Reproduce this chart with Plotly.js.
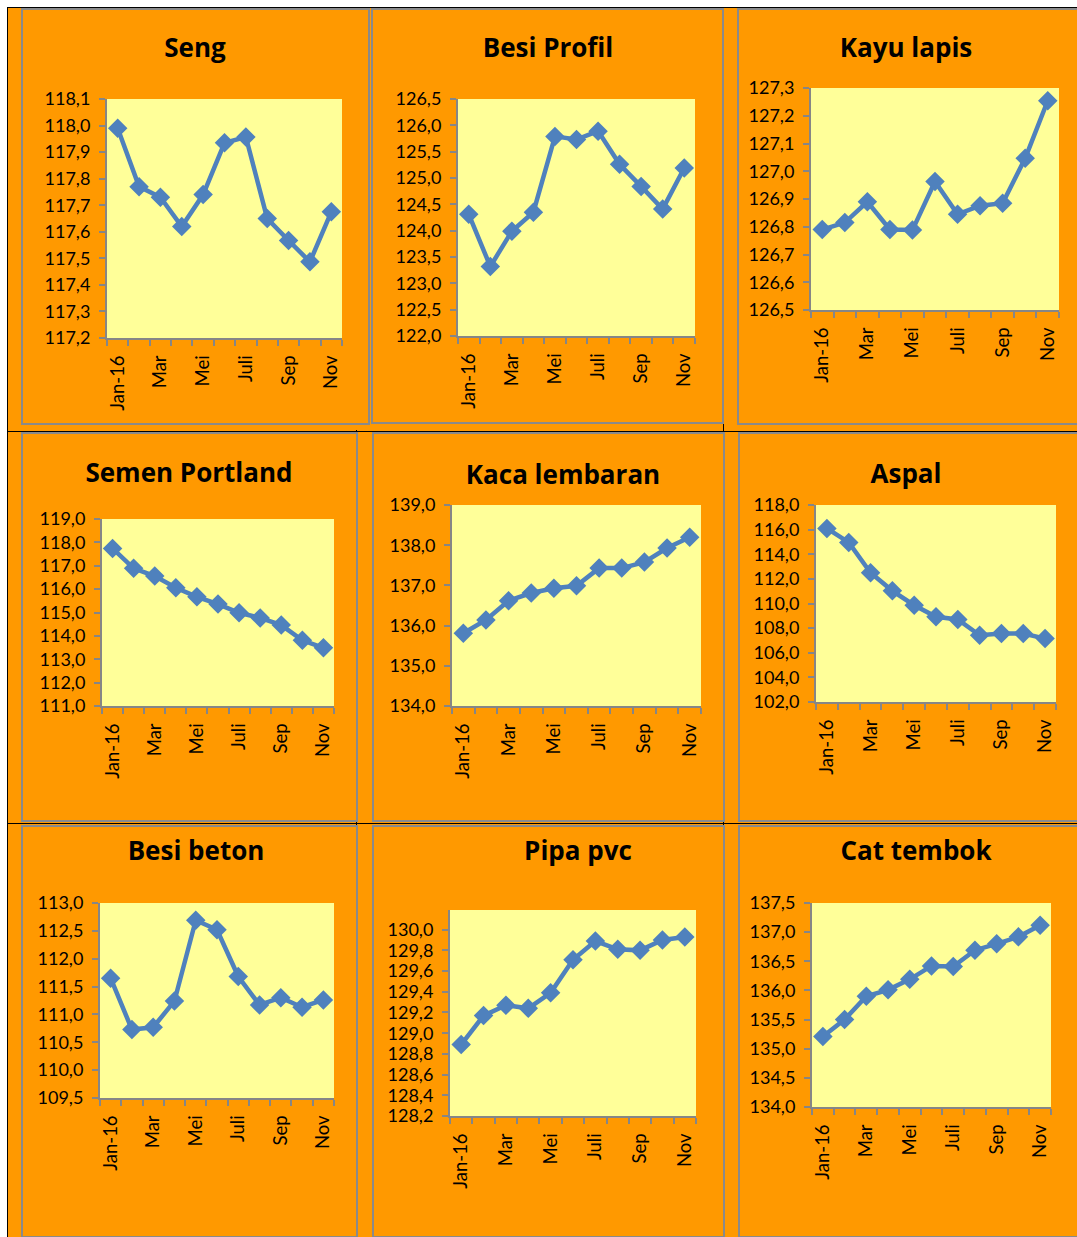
<!DOCTYPE html>
<html>
<head>
<meta charset="utf-8">
<script src="https://cdn.plot.ly/plotly-3.0.1.min.js"></script>
<style>
  html, body { margin: 0; padding: 0; width: 1077px; height: 1237px; overflow: hidden; background: #ffffff; }
  #sheet { position: absolute; left: 7px; top: 7px; width: 1075px; height: 1235px; background: #FF9900;
           border-top: 1px solid #000; border-left: 1px solid #000; box-sizing: border-box; }
  .hline { position: absolute; height: 1px; background: #000; }
  .vline { position: absolute; width: 1px; background: #000; }
  .chart { position: absolute; }
  .frame { position: absolute; border: 2px solid #8a8a8a; box-sizing: border-box; pointer-events: none; }
</style>
</head>
<body>
<div id="sheet"></div>
<div class="hline" style="left:7px; top:431px; width:1075px;"></div>
<div class="hline" style="left:7px; top:823px; width:1075px;"></div>
<div class="vline" style="left:356px; top:430px; height:810px;"></div>
<div class="vline" style="left:723px; top:7px; height:1235px;"></div>
<div id="charts"></div>
<script>
// ---------------- DATA ----------------
const months = ['Jan-16', 'Feb', 'Mar', 'Apr', 'Mei', 'Jun', 'Juli', 'Agu', 'Sep', 'Okt', 'Nov'];
const monthLabels = ['Jan-16', '', 'Mar', '', 'Mei', '', 'Juli', '', 'Sep', '', 'Nov'];

const titles = ['Seng', 'Besi Profil', 'Kayu lapis', 'Semen Portland', 'Kaca lembaran', 'Aspal',
                'Besi beton', 'Pipa pvc', 'Cat tembok'];

const seng         = [117.99, 117.77, 117.73, 117.62, 117.74, 117.935, 117.957, 117.65, 117.567, 117.487, 117.675];
const besiProfil   = [124.31, 123.32, 123.99, 124.35, 125.79, 125.73, 125.89, 125.26, 124.84, 124.41, 125.19];
const kayuLapis    = [126.79, 126.815, 126.89, 126.79, 126.788, 126.963, 126.845, 126.876, 126.885, 127.047, 127.254];
const semenPortland= [117.74, 116.89, 116.56, 116.06, 115.67, 115.36, 114.99, 114.77, 114.46, 113.81, 113.49];
const kacaLembaran = [135.81, 136.14, 136.62, 136.81, 136.93, 136.99, 137.43, 137.43, 137.58, 137.93, 138.2];
const aspal        = [116.1, 114.96, 112.5, 111.03, 109.86, 108.92, 108.7, 107.42, 107.56, 107.56, 107.15];
const besiBeton    = [111.65, 110.73, 110.77, 111.24, 112.69, 112.52, 111.68, 111.17, 111.3, 111.13, 111.26];
const pipaPvc      = [128.89, 129.17, 129.27, 129.24, 129.39, 129.71, 129.89, 129.81, 129.8, 129.9, 129.93];
const catTembok    = [135.21, 135.5, 135.9, 136.01, 136.19, 136.42, 136.41, 136.69, 136.8, 136.92, 137.12];

const seriesList = [seng, besiProfil, kayuLapis, semenPortland, kacaLembaran, aspal, besiBeton, pipaPvc, catTembok];

// ---------------- LAYOUT / STYLE ----------------
// box: chart frame [x0,y0,x1,y1]; plot: plot-area [x0,y0,x1,y1]; tpos: title centre
const panels = [
  {box:[21,8,370,425],   plot:[107.3,99.3,341.7,337.7], yr:[117.2,118.1], dt:0.1, t0:117.2, tpos:[195,48]},
  {box:[371,8,724,424],  plot:[457.7,99.3,695,336],     yr:[122,126.5],   dt:0.5, t0:122,   tpos:[548,48]},
  {box:[737,8,1082,425], plot:[810.7,88.3,1059,310],    yr:[126.5,127.3], dt:0.1, t0:126.5, tpos:[906,48]},
  {box:[21,432,358,822], plot:[101.7,519,334.3,705.7],  yr:[111,119],     dt:1,   t0:111,   tpos:[189,473]},
  {box:[372,432,725,822],plot:[451.7,505,701,706],      yr:[134,139],     dt:1,   t0:134,   tpos:[563,475]},
  {box:[738,432,1082,822],plot:[815.7,505,1056,701.7],  yr:[102,118],     dt:2,   t0:102,   tpos:[906,474]},
  {box:[21,825,358,1238],plot:[100,902.7,334.3,1098.3], yr:[109.5,113],   dt:0.5, t0:109.5, tpos:[196,851]},
  {box:[372,825,725,1238],plot:[450,910,695.7,1116],    yr:[128.2,130.19],dt:0.2, t0:128.2, tpos:[578,851]},
  {box:[738,825,1082,1238],plot:[812.3,902.7,1050.7,1107.3], yr:[134,137.5], dt:0.5, t0:134, tpos:[916,851]}
];

const ORANGE = '#FF9900';
const YELLOW = '#FFFF99';
const BLUE = '#4F81BD';
const AXIS = '#868686';
const TITLE_FONT = 'Open Sans, Noto Sans, sans-serif';
const TICK_FONT = 'Lato, Open Sans, sans-serif';

const container = document.getElementById('charts');

panels.forEach(function (p, i) {
  const W = p.box[2] - p.box[0];
  const H = p.box[3] - p.box[1];
  const div = document.createElement('div');
  div.className = 'chart';
  div.style.left = p.box[0] + 'px';
  div.style.top = p.box[1] + 'px';
  div.style.width = W + 'px';
  div.style.height = H + 'px';
  container.appendChild(div);

  const frame = document.createElement('div');
  frame.className = 'frame';
  frame.style.left = p.box[0] + 'px';
  frame.style.top = p.box[1] + 'px';
  frame.style.width = W + 'px';
  frame.style.height = H + 'px';
  container.appendChild(frame);

  const trace = {
    x: months,
    y: seriesList[i],
    type: 'scatter',
    mode: 'lines+markers',
    line: {color: BLUE, width: 4.5},
    marker: {symbol: 'diamond', size: 15, color: BLUE, line: {width: 0}},
    hoverinfo: 'x+y',
    cliponaxis: false
  };

  const layout = {
    width: W,
    height: H,
    margin: {
      l: p.plot[0] - p.box[0],
      r: p.box[2] - p.plot[2],
      t: p.plot[1] - p.box[1],
      b: p.box[3] - p.plot[3],
      pad: 0
    },
    paper_bgcolor: ORANGE,
    plot_bgcolor: YELLOW,
    separators: ',.',
    showlegend: false,
    font: {family: TICK_FONT, size: 18, color: '#000000'},
    title: {
      text: '<b>' + titles[i] + '</b>',
      font: {family: TITLE_FONT, size: 26, color: '#000000'},
      xref: 'container', yref: 'container',
      x: (p.tpos[0] - p.box[0]) / W,
      y: 1 - (p.tpos[1] - p.box[1]) / H,
      xanchor: 'center', yanchor: 'middle'
    },
    xaxis: {
      type: 'category',
      range: [-0.5, months.length - 0.5],
      tickmode: 'array',
      tickvals: months,
      ticktext: monthLabels,
      tickson: 'boundaries',
      ticks: 'outside',
      ticklen: 6,
      tickwidth: 2,
      tickcolor: AXIS,
      tickangle: -90,
      ticklabelstandoff: 8,
      showline: true,
      linecolor: AXIS,
      linewidth: 2,
      showgrid: false,
      zeroline: false,
      fixedrange: true,
      tickfont: {family: TICK_FONT, size: 18.5, color: '#000000'}
    },
    yaxis: {
      range: p.yr,
      tick0: p.t0,
      dtick: p.dt,
      tickformat: '.1f',
      ticks: 'outside',
      ticklen: 6,
      tickwidth: 2,
      tickcolor: AXIS,
      ticklabelstandoff: 5,
      showline: true,
      linecolor: AXIS,
      linewidth: 2,
      showgrid: false,
      zeroline: false,
      fixedrange: true,
      tickfont: {family: TICK_FONT, size: 18, color: '#000000'}
    }
  };

  Plotly.newPlot(div, [trace], layout, {displayModeBar: false, staticPlot: true});
});
</script>
</body>
</html>
